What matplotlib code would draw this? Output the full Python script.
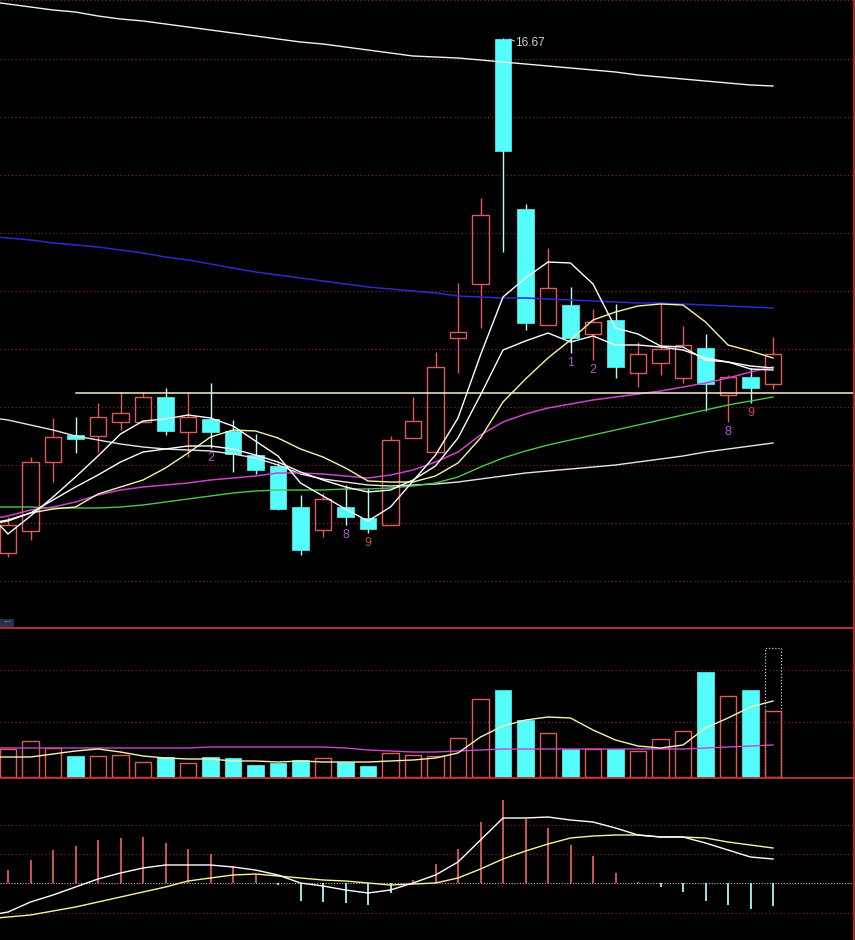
import numpy as np
import matplotlib
matplotlib.use("Agg")
import matplotlib.pyplot as plt
from matplotlib.patches import Rectangle
from matplotlib.lines import Line2D

# ---------------- daily candles ----------------
opens = [11.52, 11.74, 12.43, 12.70, 12.69, 12.83, 12.83, 13.08, 12.73, 12.86,
         12.74, 12.50, 12.39, 11.98, 11.75, 11.98, 11.87, 11.80, 12.67, 12.53,
         13.67, 14.21, 16.66, 14.96, 13.80, 14.00, 13.71, 13.85, 13.32, 13.42,
         13.27, 13.57, 13.10, 13.28, 13.21]
highs = [11.88, 12.48, 12.87, 12.88, 13.02, 13.13, 13.13, 13.17, 13.13, 13.22,
         12.85, 12.71, 12.42, 12.10, 12.12, 12.20, 12.17, 12.69, 13.08, 13.53,
         14.22, 15.07, 16.67, 15.01, 14.57, 14.18, 13.96, 14.01, 13.63, 14.01,
         13.79, 13.71, 13.30, 13.37, 13.68]
lows = [11.48, 11.65, 12.23, 12.52, 12.53, 12.75, 12.83, 12.70, 12.48, 12.57,
        12.33, 12.31, 11.95, 11.50, 11.68, 11.80, 11.72, 11.80, 12.67, 12.53,
        13.32, 13.77, 14.53, 13.75, 13.80, 13.52, 13.45, 13.27, 13.18, 13.30,
        13.22, 12.94, 12.83, 13.02, 13.16]
closes = [11.80, 12.43, 12.68, 12.66, 12.88, 12.92, 13.08, 12.74, 12.88, 12.73,
          12.51, 12.35, 11.96, 11.55, 12.06, 11.88, 11.76, 12.65, 12.84, 13.38,
          13.73, 14.90, 15.54, 13.82, 14.17, 13.67, 13.83, 13.38, 13.51, 13.56,
          13.60, 13.21, 13.28, 13.17, 13.51]

# moving-average lines, one value per session starting one session before the first candle
ma5 = [11.95, 11.71, 11.89, 12.08, 12.28, 12.49, 12.71, 12.84, 12.86, 12.90,
       12.87, 12.79, 12.64, 12.49, 12.22, 12.09, 11.96, 11.84, 11.98, 12.24,
       12.50, 12.87, 13.50, 14.08, 14.27, 14.43, 14.42, 14.21, 13.77, 13.71,
       13.59, 13.58, 13.45, 13.43, 13.36, 13.35]
ma7 = [11.81, 11.85, 11.92, 12.05, 12.18, 12.30, 12.43, 12.53, 12.56, 12.59,
       12.59, 12.56, 12.50, 12.43, 12.33, 12.25, 12.18, 12.13, 12.15, 12.25,
       12.39, 12.67, 13.10, 13.55, 13.64, 13.72, 13.63, 13.69, 13.60, 13.60,
       13.58, 13.55, 13.47, 13.43, 13.39, 13.37]
ma10 = [11.80, 11.84, 11.92, 11.96, 11.98, 12.11, 12.18, 12.25, 12.37, 12.52,
        12.68, 12.75, 12.74, 12.67, 12.56, 12.48, 12.37, 12.24, 12.23, 12.23,
        12.29, 12.42, 12.67, 13.03, 13.26, 13.47, 13.65, 13.85, 13.93, 13.99,
        14.01, 14.00, 13.83, 13.60, 13.54, 13.47]
ma20 = [11.85, 11.89, 11.95, 11.98, 12.03, 12.10, 12.15, 12.18, 12.20, 12.22,
        12.25, 12.27, 12.29, 12.32, 12.32, 12.31, 12.29, 12.27, 12.30, 12.35,
        12.43, 12.53, 12.70, 12.83, 12.91, 12.97, 13.01, 13.05, 13.08, 13.11,
        13.14, 13.18, 13.22, 13.27, 13.33, 13.38]
ma60 = [11.98, 11.98, 11.98, 11.97, 11.97, 11.97, 11.98, 12.00, 12.03, 12.06,
        12.09, 12.12, 12.14, 12.15, 12.15, 12.15, 12.16, 12.16, 12.17, 12.19,
        12.22, 12.28, 12.38, 12.47, 12.54, 12.60, 12.65, 12.70, 12.75, 12.80,
        12.85, 12.90, 12.95, 13.00, 13.04, 13.08]
ma120 = [12.88, 12.85, 12.80, 12.75, 12.69, 12.65, 12.61, 12.58, 12.56, 12.55,
         12.54, 12.51, 12.47, 12.40, 12.31, 12.26, 12.23, 12.20, 12.19, 12.20,
         12.21, 12.23, 12.26, 12.29, 12.32, 12.34, 12.36, 12.38, 12.40, 12.43,
         12.46, 12.49, 12.53, 12.56, 12.59, 12.62]
ma180 = [14.69, 14.67, 14.65, 14.62, 14.60, 14.58, 14.55, 14.52, 14.48, 14.45,
         14.41, 14.37, 14.33, 14.30, 14.27, 14.24, 14.21, 14.18, 14.16, 14.14,
         14.12, 14.09, 14.08, 14.07, 14.07, 14.06, 14.05, 14.04, 14.03, 14.02,
         14.02, 14.01, 14.00, 13.99, 13.98, 13.97]
ma250 = [17.04, 17.01, 16.98, 16.95, 16.93, 16.89, 16.86, 16.84, 16.81, 16.78,
         16.75, 16.72, 16.69, 16.66, 16.63, 16.61, 16.58, 16.55, 16.52, 16.49,
         16.48, 16.47, 16.45, 16.43, 16.41, 16.39, 16.37, 16.35, 16.33, 16.30,
         16.28, 16.26, 16.24, 16.22, 16.20, 16.19]
support_level = 13.12

# TD-count marks: (session, text, colour key)
td_marks = [(9, "2", "m"), (15, "8", "m"), (16, "9", "r"),
            (25, "1", "m"), (26, "2", "m"), (32, "8", "m"), (33, "9", "r")]

# ---------------- volume (hundreds of lots) ----------------
volume = [2800, 3600, 2900, 2100, 2100, 2200, 1500, 2000, 1400, 2000,
          1900, 1200, 1400, 1700, 1900, 1500, 1100, 2400, 2200, 2100,
          3900, 7800, 8700, 5700, 4400, 2800, 2800, 2800, 2600, 3800,
          4600, 10500, 8100, 8700, 6600]
volume_projected_last = 12900
vol_ma5 = [2000, 2000, 2000, 2300, 2600, 2800, 2500, 2100, 1900, 1800,
           1800, 1600, 1600, 1500, 1600, 1500, 1500, 1500, 1600, 1700,
           1900, 2400, 4000, 5100, 5700, 6000, 5900, 4700, 3700, 3100,
           2900, 3200, 4900, 5900, 7000, 7600]
vol_ma60 = [2900, 2900, 2900, 2900, 2900, 2900, 2900, 2900, 2900, 2900,
            3000, 3000, 3000, 3000, 3000, 3000, 2900, 2700, 2600, 2500,
            2500, 2600, 2700, 2800, 2800, 2800, 2800, 2800, 2800, 2800,
            2800, 2800, 2900, 3000, 3100, 3200]

# ---------------- MACD ----------------
dif = [-0.33, -0.29, -0.19, -0.12, -0.04, 0.04, 0.10, 0.15, 0.18, 0.18,
       0.18, 0.16, 0.13, 0.08, 0.00, -0.03, -0.07, -0.10, -0.07, 0.00,
       0.08, 0.21, 0.43, 0.65, 0.65, 0.66, 0.63, 0.61, 0.55, 0.48,
       0.46, 0.46, 0.40, 0.33, 0.26, 0.24]
dea = [-0.36, -0.34, -0.32, -0.28, -0.24, -0.19, -0.14, -0.09, -0.04, 0.02,
       0.05, 0.08, 0.09, 0.07, 0.05, 0.03, 0.02, 0.00, -0.02, -0.01,
       0.00, 0.05, 0.14, 0.24, 0.32, 0.39, 0.45, 0.47, 0.48, 0.48,
       0.46, 0.46, 0.45, 0.41, 0.38, 0.35]
macd_hist = [0.13, 0.23, 0.33, 0.37, 0.43, 0.45, 0.46, 0.40, 0.34, 0.29,
             0.17, 0.09, -0.02, -0.18, -0.19, -0.20, -0.22, -0.10, 0.03, 0.19,
             0.34, 0.61, 0.83, 0.64, 0.55, 0.38, 0.27, 0.10, 0.01, -0.04,
             -0.09, -0.18, -0.22, -0.26, -0.23]

# ---------------- styling ----------------
BG = "black"
UP = "#E05A5A"
DOWN = "#54FCFC"
GRID = "#7A2626"
FRAME = "#C83232"
W, H = 855, 940

n = len(closes)
idx = np.arange(n)
line_idx = np.arange(-1, n)
body_w = 0.72
x_left, x_right = -8 / 22.5, (854 - 8) / 22.5

fig = plt.figure(figsize=(W / 100, H / 100), dpi=100, facecolor=BG)


def px_rect(x0, y0, x1, y1):
    return [x0 / W, 1 - y1 / H, (x1 - x0) / W, (y1 - y0) / H]


ax_p = fig.add_axes(px_rect(0, 0, 854, 628))
ax_v = fig.add_axes(px_rect(0, 628, 854, 778))
ax_m = fig.add_axes(px_rect(0, 778, 854, 940))

for ax in (ax_p, ax_v, ax_m):
    ax.set_facecolor(BG)
    ax.set_xlim(x_left, x_right)
    ax.set_xticks([])
    ax.set_yticks([])
    for s in ax.spines.values():
        s.set_visible(False)

dot = (0, (1, 2))

# ---------------- price panel ----------------
ax_p.set_ylim(10.77, 17.05)
for k in range(11):
    ax_p.axhline(17.045 - 0.581 * k, color=GRID, lw=0.9, ls=dot, zorder=0)

for i in idx:
    o, h, l, c = opens[i], highs[i], lows[i], closes[i]
    if c >= o:
        ax_p.add_patch(Rectangle((i - body_w / 2, o), body_w, c - o,
                                 facecolor="none", edgecolor=UP, lw=1.0, zorder=3))
        ax_p.vlines(i, c, h, color=UP, lw=1.0, zorder=3)
        ax_p.vlines(i, l, o, color=UP, lw=1.0, zorder=3)
    else:
        ax_p.vlines(i, l, h, color="#B8FCFC", lw=1.0, zorder=2)
        ax_p.add_patch(Rectangle((i - body_w / 2, c), body_w, o - c,
                                 facecolor=DOWN, edgecolor=DOWN, lw=0.5, zorder=3))

ax_p.plot(line_idx, ma250, color="#F2F2F2", lw=1.0, zorder=4)
ax_p.plot(line_idx, ma180, color="#2A2ACF", lw=1.1, zorder=4)
ax_p.plot(line_idx, ma120, color="#E6E6E6", lw=1.0, zorder=4)
ax_p.plot(line_idx, ma60, color="#4CC84C", lw=1.0, zorder=4)
ax_p.plot(line_idx, ma20, color="#D040D0", lw=1.1, zorder=4)
ax_p.plot(line_idx, ma10, color="#F5F5A8", lw=1.0, zorder=5)
ax_p.plot(line_idx, ma7, color="#FFFFFF", lw=1.0, zorder=5)
ax_p.plot(line_idx, ma5, color="#FFFFFF", lw=1.0, zorder=5)

ax_p.plot([3, x_right + 1], [support_level, support_level],
          color="#F4EFC8", lw=1.1, zorder=4)

# highest-price tag
top_i = int(np.argmax(highs))
ax_p.plot([top_i + 0.3, top_i + 0.5], [highs[top_i] - 0.01, highs[top_i] - 0.03],
          color="#C8C8C8", lw=0.8, zorder=6)
ax_p.text(top_i + 0.55, highs[top_i] - 0.05, f"{highs[top_i]:.2f}",
          color="#D2D2D2", fontsize=8.5, family="Liberation Sans",
          ha="left", va="center", zorder=6)

td_colors = {"m": "#B055C8", "r": "#C84A4A"}
for i, t, ck in td_marks:
    ax_p.annotate(t, xy=(i, lows[i]), xytext=(0, -3), textcoords="offset points",
                  ha="center", va="top", fontsize=9, family="Liberation Sans",
                  color=td_colors[ck], zorder=6)

# ---------------- volume panel ----------------
ax_v.set_ylim(-100, 14900)
for g in (10700, 5500):
    ax_v.axhline(g, color=GRID, lw=0.9, ls=dot, zorder=0)

for i in idx:
    if closes[i] >= opens[i]:
        ax_v.add_patch(Rectangle((i - body_w / 2, 0), body_w, volume[i],
                                 facecolor="none", edgecolor=UP, lw=1.0, zorder=3))
    else:
        ax_v.add_patch(Rectangle((i - body_w / 2, 0), body_w, volume[i],
                                 facecolor=DOWN, edgecolor=DOWN, lw=0.5, zorder=3))
ax_v.add_patch(Rectangle((n - 1 - body_w / 2, 0), body_w, volume_projected_last,
                         facecolor="none", edgecolor="#CFCFCF", lw=0.9,
                         ls=(0, (1, 1.5)), zorder=2))
ax_v.plot(line_idx, vol_ma60, color="#C848C8", lw=1.0, zorder=4)
ax_v.plot(line_idx, vol_ma5, color="#F2F2B4", lw=1.0, zorder=5)

# ---------------- MACD panel ----------------
ax_m.set_ylim(-0.57, 1.05)
for g in (0.58, 0.29, -0.30):
    ax_m.axhline(g, color=GRID, lw=0.9, ls=dot, zorder=0)
ax_m.axhline(0, color="#BDBDBD", lw=0.8, ls=(0, (1, 1.5)), zorder=1)
hist_colors = [UP if v >= 0 else "#A8F4F4" for v in macd_hist]
ax_m.vlines(idx, 0, macd_hist, colors=hist_colors, lw=1.3, zorder=3)
ax_m.plot(line_idx, dea, color="#F5F59A", lw=1.0, zorder=4)
ax_m.plot(line_idx, dif, color="#FFFFFF", lw=1.0, zorder=5)

# ---------------- panel frame (drawn on top of all panels) ----------------
for y_px in (628, 778):
    fig.add_artist(Line2D([0, 854 / W], [1 - y_px / H, 1 - y_px / H],
                          transform=fig.transFigure, color=FRAME, lw=1.3, zorder=20))
fig.add_artist(Line2D([853.5 / W, 853.5 / W], [0, 1],
                      transform=fig.transFigure, color=FRAME, lw=1.2, zorder=20))

# small panel-menu badge in the lower-left corner of the price panel
fig.add_artist(Rectangle((0, 1 - 627 / H), 14 / W, 8 / H, transform=fig.transFigure,
                         facecolor="#25334F", edgecolor="none", zorder=21))
fig.text(7 / W, 1 - 623 / H, "···", color="#DDE3F0", fontsize=6,
         ha="center", va="center", zorder=22)

fig.savefig("out.png", dpi=100, facecolor=BG)
